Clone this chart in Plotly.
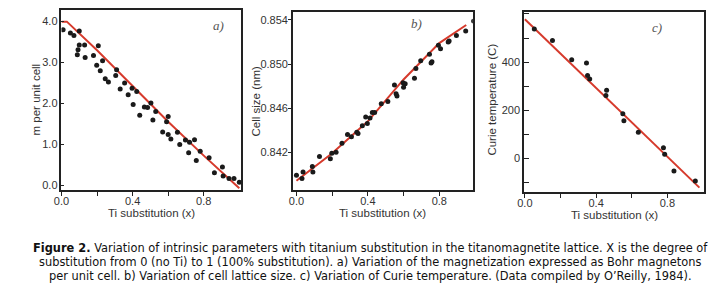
import plotly.graph_objects as go

PAGE_W, PAGE_H = 725, 291
OFF = 8  # default body margin of the page
W, H = PAGE_W - OFF, PAGE_H - OFF

# ---- data: panel a) magnetization ----
a_x = [0.009, 0.05, 0.07, 0.10, 0.10, 0.13, 0.093, 0.089, 0.133, 0.18, 0.207, 0.198, 0.218, 0.231,
       0.246, 0.264, 0.305, 0.31, 0.33, 0.355, 0.375, 0.397, 0.403, 0.423, 0.44, 0.466, 0.484,
       0.503, 0.514, 0.53, 0.569, 0.591, 0.60, 0.60, 0.615, 0.652, 0.665, 0.697, 0.72, 0.715,
       0.748, 0.758, 0.78, 0.83, 0.86, 0.905, 0.909, 0.942, 0.97, 1.0]
a_y = [3.80, 3.72, 3.66, 3.77, 3.43, 3.43, 3.31, 3.19, 3.12, 3.17, 3.41, 2.93, 2.80, 3.04,
       2.60, 2.52, 2.68, 2.82, 2.35, 2.50, 2.21, 2.37, 1.97, 2.29, 1.71, 1.91, 1.90,
       2.01, 1.59, 1.80, 1.30, 1.55, 1.68, 1.24, 1.13, 1.29, 0.99, 1.10, 1.05, 0.79,
       1.11, 0.60, 0.83, 0.67, 0.30, 0.44, 0.22, 0.16, 0.16, 0.07]
a_line_x = [0.0, 0.03, 0.2, 0.4, 0.6, 0.8, 1.0]
a_line_y = [4.0, 4.0, 3.30, 2.42, 1.55, 0.72, -0.08]

# ---- data: panel b) cell size ----
b_x = [0.0, 0.031, 0.037, 0.089, 0.092, 0.129, 0.19, 0.198, 0.222, 0.255, 0.286, 0.308, 0.338,
       0.345, 0.369, 0.388, 0.397, 0.412, 0.425, 0.438, 0.475, 0.512, 0.549, 0.558, 0.563,
       0.597, 0.609, 0.60, 0.661, 0.669, 0.696, 0.745, 0.754, 0.759, 0.795, 0.807, 0.85,
       0.855, 0.896, 0.948, 0.992]
b_y = [0.8399, 0.8396, 0.8402, 0.8407, 0.8402, 0.8416, 0.8414, 0.8419, 0.8420, 0.8428, 0.8436,
       0.8434, 0.8438, 0.8437, 0.8444, 0.8452, 0.8446, 0.8451, 0.8456, 0.8456, 0.8464, 0.8466,
       0.8481, 0.8473, 0.8471, 0.8483, 0.8482, 0.8479, 0.8487, 0.8496, 0.8503, 0.8509, 0.8501,
       0.8502, 0.8517, 0.8514, 0.8520, 0.8521, 0.8526, 0.8530, 0.8539]
b_line_x = [0.0, 0.2, 0.4, 0.6, 0.8, 0.915, 0.951]
b_line_y = [0.8394, 0.8419, 0.8448, 0.8486, 0.8519, 0.8532, 0.85355]

# ---- data: panel c) Curie temperature ----
c_x = [0.053, 0.155, 0.263, 0.346, 0.352, 0.364, 0.459, 0.455, 0.55, 0.556, 0.637, 0.778, 0.785, 0.837, 0.957]
c_y = [538, 490, 410, 396, 344, 330, 283, 261, 186, 157, 109, 44, 17, -52, -94]
c_line_x = [0.0, 0.485, 0.98]
c_line_y = [578, 233, -121]

x_tickvals = [0.0, 0.2, 0.4, 0.6, 0.8]
x_ticktext = ["0.0", "", "0.4", "", "0.8"]
a_ytickvals = [0, 1, 2, 3, 4]
a_yticktext = ["0.0", "1.0", "2.0", "3.0", "4.0"]
b_ytickvals = [0.842, 0.846, 0.850, 0.854]
b_yticktext = ["0.842", "0.846", "0.850", "0.854"]
c_ytickvals = [-100, 0, 100, 200, 300, 400, 500, 600]
c_yticktext = ["", "0", "", "200", "", "400", "", "600"]

RED = "#d63a2c"
DOT = "#1a1a1a"
FRAME = "#222222"
TXT = "#333333"
FONT = "Liberation Sans, Arial, sans-serif"


def px(x):
    return (x - OFF) / W


def py(y):
    return 1 - (y - OFF) / H


fig = go.Figure()
panels = [
    ("", a_x, a_y, a_line_x, a_line_y),
    ("2", b_x, b_y, b_line_x, b_line_y),
    ("3", c_x, c_y, c_line_x, c_line_y),
]
for suf, xs, ys, lx, ly in panels:
    fig.add_trace(go.Scatter(x=lx, y=ly, mode="lines", line=dict(color=RED, width=2),
                             xaxis="x" + suf, yaxis="y" + suf, showlegend=False, hoverinfo="skip"))
    fig.add_trace(go.Scatter(x=xs, y=ys, mode="markers", marker=dict(color=DOT, size=5),
                             xaxis="x" + suf, yaxis="y" + suf, showlegend=False))

common = dict(showgrid=False, zeroline=False, showline=True, mirror=True, linecolor=FRAME,
              linewidth=1.5, tickfont=dict(family=FONT, size=11, color=TXT), tickcolor=FRAME,
              tickwidth=1.2)
xcommon = dict(tickvals=x_tickvals, ticktext=x_ticktext, ticks="outside", ticklen=4,
               ticklabelstandoff=-4, **common)

# domains in page pixels: (left, right, top, bottom)
dom_a = (54, 236, 10, 191)
dom_b = (288, 470, 12.3, 190.7)
dom_c = (521.7, 704, 11.7, 192.7)


def xd(d):
    return [px(d[0]), px(d[1])]


def yd(d):
    return [py(d[3]), py(d[2])]


fig.update_layout(
    width=W, height=H, margin=dict(l=0, r=0, t=0, b=0),
    paper_bgcolor="white", plot_bgcolor="white",
    xaxis=dict(domain=xd(dom_a), range=[0.0, 1.012], anchor="y", **xcommon),
    yaxis=dict(domain=yd(dom_a), range=[-0.13, 4.285], anchor="x", tickvals=a_ytickvals,
               ticktext=a_yticktext, ticks="inside", ticklen=3, **common),
    xaxis2=dict(domain=xd(dom_b), range=[-0.02, 0.988], anchor="y2", **xcommon),
    yaxis2=dict(domain=yd(dom_b), range=[0.83856, 0.8547], anchor="x2", tickvals=b_ytickvals,
                ticktext=b_yticktext, ticks="outside", ticklen=3, ticklabelstandoff=-2, **common),
    xaxis3=dict(domain=xd(dom_c), range=[-0.005, 1.007], anchor="y3", **xcommon),
    yaxis3=dict(domain=yd(dom_c), range=[-139.5, 609.5], anchor="x3", tickvals=c_ytickvals,
                ticktext=c_yticktext, ticks="inside", ticklen=5, **common),
)

ann = []
tfont = dict(family=FONT, size=11.5, color=TXT)
for cx, cy in [(145, 214), (379, 214), (613, 216)]:
    ann.append(dict(x=px(cx), y=py(cy), xref="paper", yref="paper", text="Ti substitution (x)",
                    showarrow=False, font=tfont, xanchor="center", yanchor="middle"))
for cx, cy, t in [(28, 100, "m per unit cell"), (250.5, 102, "Cell size (nm)"),
                  (489.3, 100, "Curie temperature (C)")]:
    ann.append(dict(x=px(cx), y=py(cy), xref="paper", yref="paper", text=t, textangle=-90,
                    showarrow=False, font=tfont, xanchor="center", yanchor="middle"))
lfont = dict(family="Liberation Serif, Times New Roman, serif", size=13, color="#555555")
for cx, cy, t in [(212.7, 26, "a)"), (413.3, 23.3, "b)"), (656.7, 27.3, "c)")]:
    ann.append(dict(x=px(cx), y=py(cy), xref="paper", yref="paper", text="<i>" + t + "</i>",
                    showarrow=False, font=lfont, xanchor="center", yanchor="middle"))

caption = [
    "<b>Figure 2.</b> Variation of intrinsic parameters with titanium substitution in the titanomagnetite lattice. X is the degree of",
    "substitution from 0 (no Ti) to 1 (100% substitution). a) Variation of the magnetization expressed as Bohr magnetons",
    "per unit cell. b) Variation of cell lattice size. c) Variation of Curie temperature. (Data compiled by O\u2019Reilly, 1984).",
]
cfont = dict(family="DejaVu Sans, Verdana, sans-serif", size=11.4, color="#111111")
for i, line in enumerate(caption):
    ann.append(dict(x=px(366), y=py(249 + 14 * i), xref="paper", yref="paper", text=line,
                    showarrow=False, font=cfont, xanchor="center", yanchor="middle"))

fig.update_layout(annotations=ann)
fig.write_html("out.html")
